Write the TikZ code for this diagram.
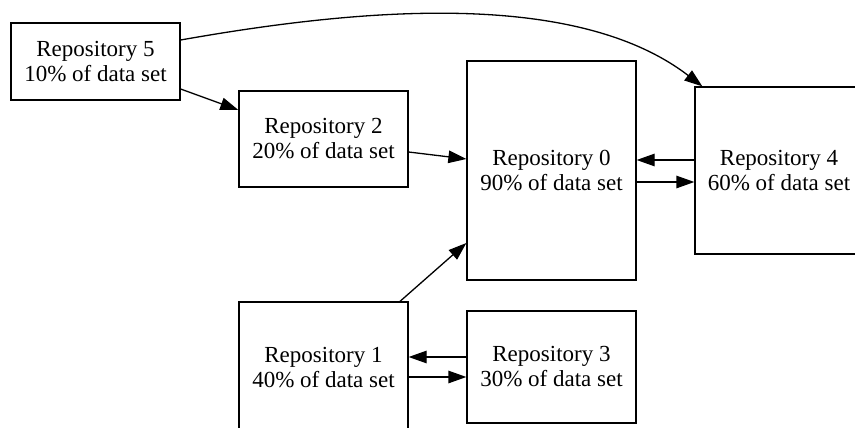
\documentclass[tikz,border=0pt]{standalone}
\usepackage{fontspec}
\setmainfont{Liberation Serif}
\usetikzlibrary{arrows.meta}
\begin{document}
\begin{tikzpicture}[x=1pt,y=-1pt,
  repo/.style={draw,line width=1.3pt,inner sep=0pt,align=center,
    font=\rmfamily\fontsize{23}{25}\selectfont},
  conn/.style={line width=1.3pt,-{Triangle[length=18pt,width=12.5pt]}}]
\useasboundingbox (0,0) rectangle (855,428);
\node[repo,minimum width=169pt,minimum height=77pt] (r5) at (95.5,61.5) {Repository 5\\10\% of data set};
\node[repo,minimum width=169pt,minimum height=96pt] (r2) at (323.5,139) {Repository 2\\20\% of data set};
\node[repo,minimum width=169pt,minimum height=219pt] (r0) at (551.5,170.5) {Repository 0\\90\% of data set};
\node[repo,minimum width=168pt,minimum height=167pt] (r4) at (779,170.5) {Repository 4\\60\% of data set};
\node[repo,minimum width=169pt,minimum height=132pt] (r1) at (323.5,368) {Repository 1\\40\% of data set};
\node[repo,minimum width=169pt,minimum height=112pt] (r3) at (551.5,367) {Repository 3\\30\% of data set};
\draw[conn] ([yshift=21.5pt]r5.east) .. controls (350,10) and (573,-13) .. ([xshift=8pt]r4.north west);
\draw[conn] ([yshift=-27.5pt]r5.east) -- ([yshift=29pt]r2.west);
\draw[conn] ([yshift=-13pt]r2.east) -- ([yshift=11.5pt]r0.west);
\draw[conn] ([yshift=10.5pt]r4.west) -- ([yshift=10.5pt]r0.east);
\draw[conn] ([yshift=-11.5pt]r0.east) -- ([yshift=-11.5pt]r4.west);
\draw[conn] ([xshift=76.5pt]r1.north) -- ([yshift=-72.5pt]r0.west);
\draw[conn] ([yshift=10pt]r3.west) -- ([yshift=11pt]r1.east);
\draw[conn] ([yshift=-9pt]r1.east) -- ([yshift=-10pt]r3.west);
\end{tikzpicture}
\end{document}
